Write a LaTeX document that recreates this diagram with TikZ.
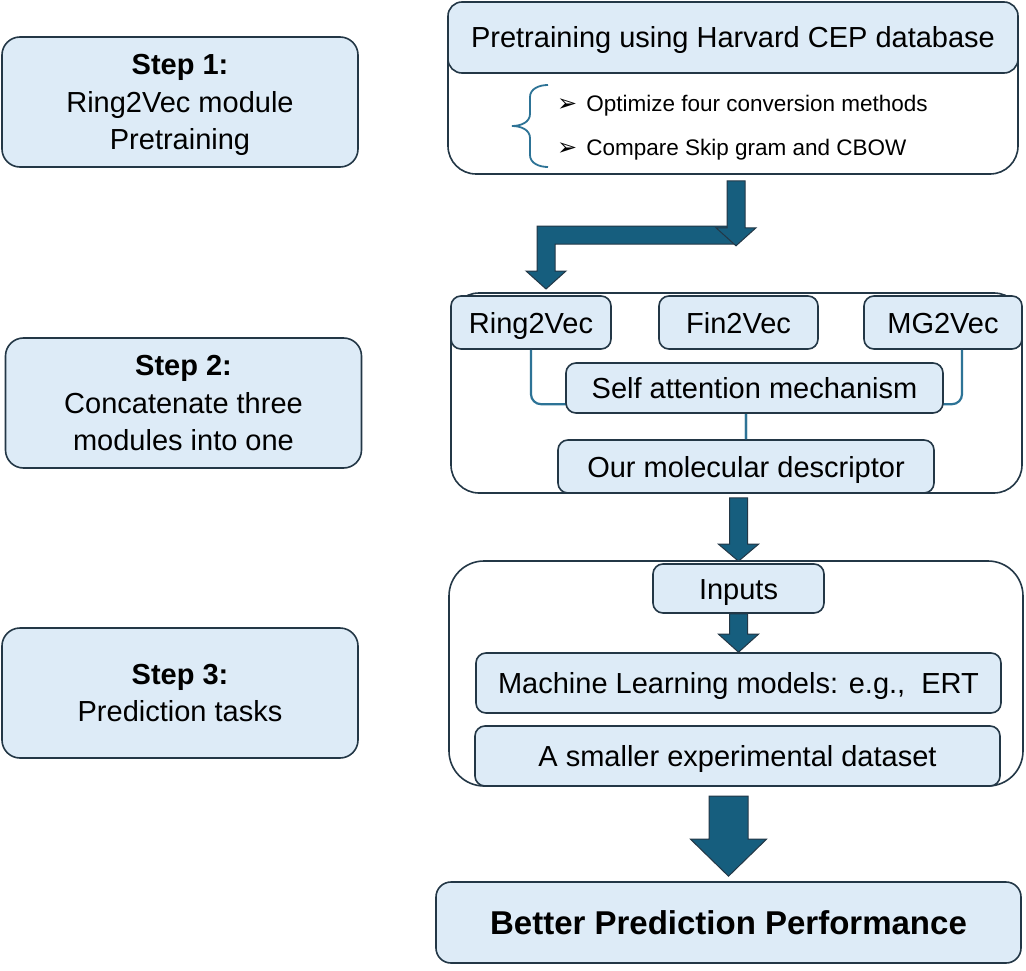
\documentclass[tikz,border=0pt]{standalone}
\usepackage{fontspec}
\setmainfont{Liberation Sans}
\newfontfamily\symfont{DejaVu Sans}
\usetikzlibrary{calc,positioning}

\definecolor{boxblue}{RGB}{221,235,247}
\definecolor{boxline}{RGB}{35,55,70}
\definecolor{arrowteal}{RGB}{22,94,126}
\definecolor{linkteal}{RGB}{45,115,150}

\tikzset{
  stepbox/.style={draw=boxline, fill=boxblue, line width=1.6pt, rounded corners=18pt,
    minimum width=356pt, minimum height=130pt, align=center, text depth=0pt,
    font=\fontsize{29}{37.5}\selectfont},
  frame/.style={draw=boxline, fill=white, line width=1.6pt, rounded corners=28pt, inner sep=0pt},
  item/.style={draw=boxline, fill=boxblue, line width=1.6pt, rounded corners=10pt,
    inner sep=0pt, text height=21pt, text depth=0pt, font=\fontsize{29}{35}\selectfont},
  bullet/.style={anchor=west, inner sep=0pt, font=\fontsize{22.5}{27}\selectfont},
  bigarrow/.style={draw=boxline, fill=arrowteal, line width=1pt, line join=miter},
  link/.style={draw=linkteal, line width=2.2pt, rounded corners=10pt},
}

% fat downward arrow: top point, tip point, shaft half width, head half width, head length
\newcommand{\blockdown}[5]{%
  \draw[bigarrow] let \p1=(#1), \p2=(#2) in
    (\x2-#3pt,\y1) -- (\x2+#3pt,\y1) -- (\x2+#3pt,\y2+#5pt) -- (\x2+#4pt,\y2+#5pt)
    -- (\x2,\y2) -- (\x2-#4pt,\y2+#5pt) -- (\x2-#3pt,\y2+#5pt) -- cycle;}

\begin{document}
\begin{tikzpicture}[x=1pt, y=-1pt]
  \useasboundingbox (0,0) rectangle (1026,971);

  % left column: the three steps
  \node[stepbox] (s1) at (180,102) {\textbf{Step 1:}\\Ring2Vec module\\Pretraining};
  \node[stepbox] (s2) at (183.5,403) {\textbf{Step 2:}\\Concatenate three\\modules into one};
  \node[stepbox] (s3) at (180,693) {\textbf{Step 3:}\\Prediction tasks};

  % step 1: pretraining
  \node[frame, minimum width=570pt, minimum height=172pt] (pretrain) at (733,88) {};
  \node[item, rounded corners=14pt, minimum width=570pt, minimum height=71pt] (cep) at (733,37.5)
    {Pretraining using Harvard CEP database};
  \draw[linkteal, line width=1.8pt] (548,85) to[out=180,in=90] (530,97) -- (530,114)
    to[out=-90,in=0] (512,126) to[out=0,in=90] (530,138) -- (530,155)
    to[out=-90,in=180] (548,167);
  \node[bullet] (opt) at (557,106) {{\symfont\fontsize{24}{26}\selectfont ➢}\hspace{9pt}Optimize four conversion methods};
  \node[bullet] (cmp) at (557,150) {{\symfont\fontsize{24}{26}\selectfont ➢}\hspace{9pt}Compare Skip gram and CBOW};

  % step 2: three modules
  \node[frame, minimum width=571pt, minimum height=200pt] (mods) at (736.5,393) {};
  \node[item, minimum width=160pt, minimum height=53pt] (ring) at (531,322.5) {Ring2Vec};
  \node[item, minimum width=159pt, minimum height=53pt] (fin) at (738.5,322.5) {Fin2Vec};
  \node[item, minimum width=158pt, minimum height=53pt] (mg) at (943,322.5) {MG2Vec};
  \node[item, minimum width=376pt, minimum height=53pt] (desc) at (746,466.5) {Our molecular descriptor};
  \draw[link] (ring.south) |- ($(desc.north)+(0,-35)$) -- (desc.north);
  \draw[link] ($(mg.south)+(19,0)$) |- ($(desc.north)+(0,-35)$) -- (desc.north);
  \node[item, minimum width=377pt, minimum height=50pt] (att) at (754.5,388) {Self attention mechanism};

  % step 3: prediction
  \node[frame, rounded corners=35pt, minimum width=574pt, minimum height=225pt] (predict) at (736,673.5) {};
  \node[item, minimum width=171pt, minimum height=49pt] (inputs) at (738.5,588.5) {Inputs};
  \node[item, minimum width=525pt, minimum height=60pt] (ml) at (738.5,683) {Machine Learning models: e.g.,\ \ ERT};
  \node[item, minimum width=525pt, minimum height=60pt] (data) at (737.5,756) {A smaller experimental dataset};

  \node[item, rounded corners=15pt, minimum width=585pt, minimum height=81pt, text height=24pt,
    font=\fontsize{33}{38}\selectfont\bfseries] (final) at (728.5,922.5) {Better Prediction Performance};

  % big arrows
  \draw[bigarrow] (736,226) -- (537,226) -- (537,271) -- (526,271) -- (546,289)
    -- (566,271) -- (555,271) -- (555,244) -- (736,244);
  \blockdown{$(pretrain.south)+(3,6)$}{$(pretrain.south)+(3,71)$}{9}{20}{18}
  \blockdown{$(inputs.north |- mods.south)+(0,4)$}{$(inputs.north)+(0,-2)$}{9}{20}{17}
  \blockdown{inputs.south}{ml.north}{9}{20}{18}
  \blockdown{$(final.north)+(0,-85)$}{$(final.north)+(0,-5)$}{19.5}{38}{37}
\end{tikzpicture}
\end{document}
